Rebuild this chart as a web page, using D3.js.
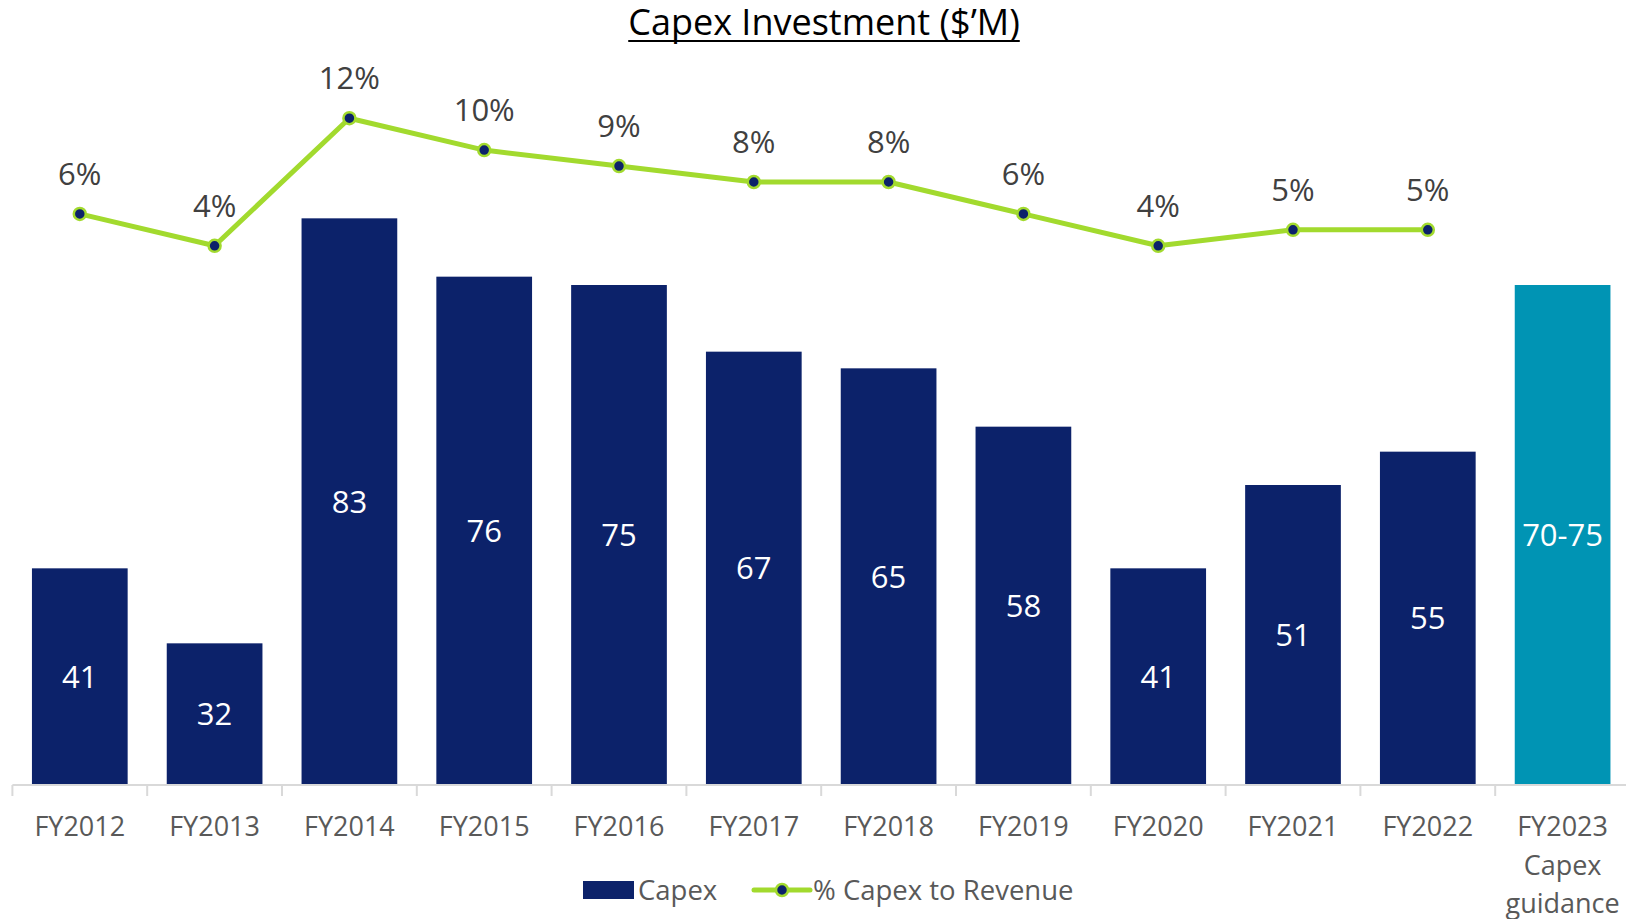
<!DOCTYPE html>
<html><head><meta charset="utf-8">
<script src="https://cdn.jsdelivr.net/npm/d3@7"></script>
<style>
html,body{margin:0;padding:0;background:#fff;}
svg{display:block;font-family:"Open Sans","Noto Sans",sans-serif;}
</style></head>
<body><svg id="chart" width="1626" height="919"></svg>
<script>
const categories = ["FY2012","FY2013","FY2014","FY2015","FY2016","FY2017","FY2018","FY2019","FY2020","FY2021","FY2022","FY2023\nCapex\nguidance"];
const capex = [41,32,83,76,75,67,65,58,41,51,55,75];
const capexLabels = ["41","32","83","76","75","67","65","58","41","51","55","70-75"];
const pctValues = [6,4,12,10,9,8,8,6,4,5,5];
const pctLabels = ["6%","4%","12%","10%","9%","8%","8%","6%","4%","5%","5%"];
const seriesNames = ["Capex","% Capex to Revenue"];
const title = "Capex Investment ($\u2019M)";

const navy = "#0C226A", teal = "#0094B4", green = "#A2DA2E";
const svg = d3.select("#chart");

const x = d3.scaleBand().domain(d3.range(categories.length)).range([12.4, 12.4 + 134.8*12]).paddingInner(0.29).paddingOuter(0.145);
const y = d3.scaleLinear().domain([15, 75]).range([785, 285]);
const yp = d3.scaleLinear().domain([4, 12]).range([245.8, 118.2]);

// title
const t = svg.append("text").attr("x", 824).attr("y", 35).attr("text-anchor","middle")
  .attr("font-size", 36).attr("fill","#000").text(title);
const tw = t.node().getComputedTextLength();
svg.append("line").attr("x1", 824 - tw/2).attr("x2", 824 + tw/2).attr("y1", 41).attr("y2", 41)
  .attr("stroke","#000").attr("stroke-width", 2);

// bars
svg.selectAll("rect.bar").data(capex).join("rect").attr("class","bar")
  .attr("x", (d,i) => x(i)).attr("width", x.bandwidth())
  .attr("y", d => y(d)).attr("height", d => y(15) - y(d))
  .attr("fill", (d,i) => i === capex.length-1 ? teal : navy);

svg.selectAll("text.blab").data(capex).join("text").attr("class","blab")
  .attr("x", (d,i) => x(i) + x.bandwidth()/2)
  .attr("y", d => (y(d) + y(15))/2).attr("dy","0.35em")
  .attr("text-anchor","middle").attr("font-size", 31).attr("fill","#fff")
  .text((d,i) => capexLabels[i]);

// axis
const axisY = 785;
svg.append("line").attr("x1", 12.4).attr("x2", 1626).attr("y1", axisY).attr("y2", axisY)
  .attr("stroke","#d9d9d9").attr("stroke-width", 2);
const bounds = d3.range(categories.length + 1).map(i => x.range()[0] + i*x.step());
svg.selectAll("line.tick").data(bounds).join("line").attr("class","tick")
  .attr("x1", d => d).attr("x2", d => d).attr("y1", axisY).attr("y2", axisY + 11)
  .attr("stroke","#d9d9d9").attr("stroke-width", 2);

svg.selectAll("text.xlab").data(categories).join("text").attr("class","xlab")
  .attr("text-anchor","middle").attr("font-size", 27).attr("fill","#595959")
  .each(function(d,i){
    const lines = d.split("\n");
    const el = d3.select(this);
    lines.forEach((ln,k) => el.append("tspan").attr("x", x(i) + x.bandwidth()/2)
      .attr("y", 827 + k*38.5).attr("dy","0.35em").text(ln));
  });

// line
const line = d3.line().x((d,i) => x(i) + x.bandwidth()/2).y(d => yp(d));
svg.append("path").datum(pctValues).attr("d", line).attr("fill","none")
  .attr("stroke", green).attr("stroke-width", 5).attr("stroke-linejoin","round");
svg.selectAll("circle.pt").data(pctValues).join("circle").attr("class","pt")
  .attr("cx", (d,i) => x(i) + x.bandwidth()/2).attr("cy", d => yp(d)).attr("r", 6)
  .attr("fill", navy).attr("stroke", green).attr("stroke-width", 2.5);
svg.selectAll("text.plab").data(pctValues).join("text").attr("class","plab")
  .attr("x", (d,i) => x(i) + x.bandwidth()/2).attr("y", d => yp(d) - 40).attr("dy","0.35em")
  .attr("text-anchor","middle").attr("font-size", 31).attr("fill","#404040")
  .text((d,i) => pctLabels[i]);

// legend
const ly = 890;
const lg = svg.append("g");
lg.append("rect").attr("x", 583).attr("y", ly - 9).attr("width", 51).attr("height", 18).attr("fill", navy);
lg.append("text").attr("x", 638).attr("y", ly).attr("dy","0.35em").attr("font-size", 27.5)
  .attr("fill","#595959").text(seriesNames[0]);
lg.append("line").attr("x1", 754).attr("x2", 810).attr("y1", ly).attr("y2", ly)
  .attr("stroke", green).attr("stroke-width", 5).attr("stroke-linecap","round");
lg.append("circle").attr("cx", 782).attr("cy", ly).attr("r", 6).attr("fill", navy)
  .attr("stroke", green).attr("stroke-width", 2.5);
lg.append("text").attr("x", 813).attr("y", ly).attr("dy","0.35em").attr("font-size", 27.5)
  .attr("fill","#595959").text(seriesNames[1]);
</script></body></html>
